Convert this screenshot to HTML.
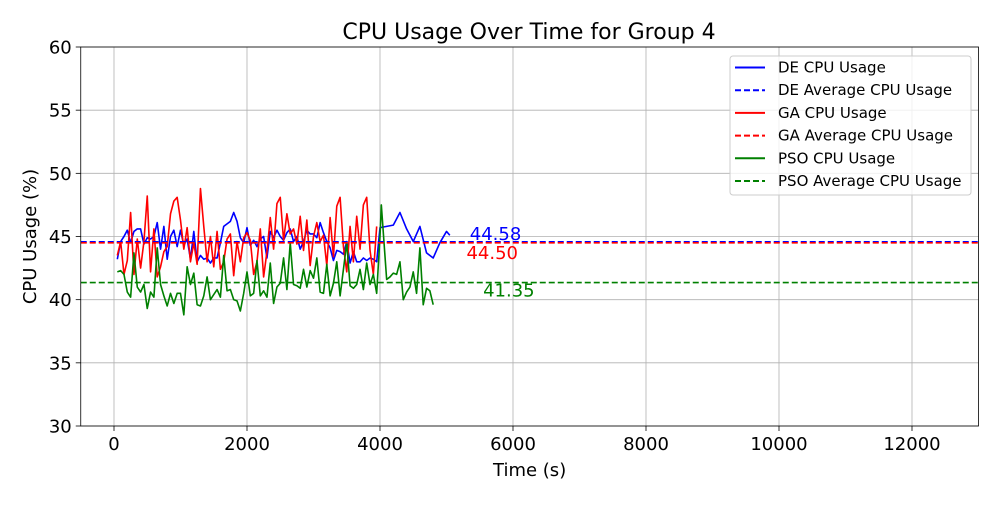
<!DOCTYPE html>
<html><head><meta charset="utf-8"><style>
body{margin:0;background:#fff;font-family:"Liberation Sans","DejaVu Sans",sans-serif}
svg text{font-family:"DejaVu Sans","Liberation Sans",sans-serif}
</style></head><body>
<svg id="chart" width="1000" height="500" viewBox="0 0 1000 500" xmlns="http://www.w3.org/2000/svg">
<rect width="1000" height="500" fill="#fff"/>
<text x="529" y="39" font-size="22" text-anchor="middle">CPU Usage Over Time for Group 4</text>
<g id="grid"></g><g id="series"></g><g id="axes"></g><g id="legend"></g>
</svg>
<script>
const xTicks=[0,2000,4000,6000,8000,10000,12000];
const yTicks=[30,35,40,45,50,55,60];
const deTimes=[50,100,150,200,250,300,350,400,450,500,550,600,650,700,750,800,850,900,950,1000,1050,1100,1150,1200,1250,1300,1350,1400,1450,1500,1550,1600,1650,1700,1750,1800,1850,1900,1950,2000,2050,2100,2150,2200,2250,2300,2350,2400,2450,2500,2550,2600,2650,2700,2750,2800,2850,2900,2950,3000,3050,3100,3150,3200,3250,3300,3350,3400,3450,3500,3550,3600,3650,3700,3750,3800,3850,3900,3950,4000,4100,4200,4300,4400,4500,4600,4700,4800,4900,5000,5050];
const deValues=[43.2,44.6,45.0,45.5,44.5,45.4,45.6,45.6,44.4,44.9,44.8,45.0,46.1,44.0,45.8,43.2,45.0,45.5,44.2,45.5,44.3,44.8,43.2,45.4,43.0,43.5,43.2,43.3,42.9,43.3,43.3,44.5,45.8,46.0,46.2,46.9,46.2,44.9,44.5,45.7,44.3,44.7,44.2,44.8,45.0,43.3,45.4,44.9,45.5,45.0,44.7,45.3,45.6,44.6,45.0,44.0,44.6,45.5,45.2,45.2,44.9,46.1,45.3,44.6,44.1,43.1,43.9,43.8,43.6,44.6,42.9,43.8,43.0,43.0,43.3,43.1,43.3,43.2,43.0,45.7,45.8,45.9,46.9,45.6,44.6,45.8,43.7,43.3,44.5,45.4,45.1];
const gaTimes=[50,100,150,200,250,300,350,400,450,500,550,600,650,700,750,800,850,900,950,1000,1050,1100,1150,1200,1250,1300,1350,1400,1450,1500,1550,1600,1650,1700,1750,1800,1850,1900,1950,2000,2050,2100,2150,2200,2250,2300,2350,2400,2450,2500,2550,2600,2650,2700,2750,2800,2850,2900,2950,3000,3050,3100,3150,3200,3250,3300,3350,3400,3450,3500,3550,3600,3650,3700,3750,3800,3850,3900,3950];
const gaValues=[43.5,44.6,42.0,43.1,46.9,42.0,44.8,42.5,44.6,48.2,42.2,45.6,41.8,42.6,43.8,44.2,46.8,47.8,48.1,46.3,44.0,45.7,43.0,44.5,42.8,48.8,45.8,43.0,45.0,42.6,45.4,42.4,43.0,44.8,45.2,41.9,44.6,43.0,44.9,45.3,44.7,42.0,43.0,45.6,41.8,43.8,46.5,44.0,47.6,48.1,44.7,46.8,45.2,45.6,44.4,46.6,43.9,46.3,42.7,45.0,46.1,44.6,45.1,42.7,46.5,43.4,47.4,48.1,44.2,42.2,45.8,43.0,46.6,44.0,47.5,48.1,43.9,42.0,45.8];
const psoTimes=[50,100,150,200,250,300,350,400,450,500,550,600,650,700,750,800,850,900,950,1000,1050,1100,1150,1200,1250,1300,1350,1400,1450,1500,1550,1600,1650,1700,1750,1800,1850,1900,1950,2000,2050,2100,2150,2200,2250,2300,2350,2400,2450,2500,2550,2600,2650,2700,2750,2800,2850,2900,2950,3000,3050,3100,3150,3200,3250,3300,3350,3400,3450,3500,3550,3600,3650,3700,3750,3800,3850,3900,3950,4000,4020,4100,4150,4200,4250,4300,4350,4400,4450,4500,4550,4600,4650,4700,4750,4800];
const psoValues=[42.2,42.3,42.0,40.6,40.2,43.7,41.0,40.6,41.2,39.3,40.6,40.2,44.1,41.2,40.3,39.5,40.5,39.7,40.5,40.5,38.8,42.6,41.2,42.1,39.6,39.5,40.3,41.8,40.0,40.4,40.8,40.2,43.5,40.7,40.8,40.0,39.9,39.1,40.5,42.2,40.3,40.5,43.1,40.3,40.7,40.2,42.9,39.7,41.0,41.3,43.3,40.8,44.5,41.2,41.1,40.9,42.4,41.0,42.3,41.7,43.3,40.6,40.5,42.8,40.3,41.3,43.0,40.3,42.4,44.5,41.1,40.9,41.2,42.4,40.8,42.9,41.2,42.0,40.5,45.0,47.5,41.6,41.8,42.1,42.0,43.0,40.0,40.6,41.0,42.2,40.5,44.1,39.6,40.9,40.7,39.6];
const avgValues=[44.58,44.50,41.35];
const seriesNames=["DE","GA","PSO"];
const colors=["#0000ff","#ff0000","#008000"];

const X0=80.75,X1=978.5,Y0=426,Y1=47,xmin=-500,xmax=13000,ymin=30,ymax=60;
const sx=v=>X0+(v-xmin)/(xmax-xmin)*(X1-X0);
const sy=v=>Y0-(v-ymin)/(ymax-ymin)*(Y0-Y1);
const NS="http://www.w3.org/2000/svg";
function mk(tag,attrs,parent){const e=document.createElementNS(NS,tag);for(const k in attrs)e.setAttribute(k,attrs[k]);parent.appendChild(e);return e;}
const grid=document.getElementById('grid'),axes=document.getElementById('axes'),ser=document.getElementById('series'),leg=document.getElementById('legend');

xTicks.forEach(t=>{
  const g=mk('line',{x1:sx(t),x2:sx(t),y1:Y1,y2:Y0,stroke:'#b0b0b0','stroke-width':0.8},grid);
  
  
  mk('line',{x1:sx(t),x2:sx(t),y1:Y0,y2:Y0+5,stroke:'#000','stroke-width':0.8},axes);
  const tx=mk('text',{x:sx(t),y:Y0+24,'font-size':18,'text-anchor':'middle'},axes);tx.textContent=t;
  
  
});
yTicks.forEach(t=>{
  const g=mk('line',{x1:X0,x2:X1,y1:sy(t),y2:sy(t),stroke:'#b0b0b0','stroke-width':0.8},grid);
  
  
  mk('line',{x1:X0-5,x2:X0,y1:sy(t),y2:sy(t),stroke:'#000','stroke-width':0.8},axes);
  const tx=mk('text',{x:X0-9,y:sy(t)+6.5,'font-size':18,'text-anchor':'end'},axes);tx.textContent=t;
  
  
});
const frame=mk('rect',{x:X0,y:Y1,width:X1-X0,height:Y0-Y1,fill:'none',stroke:'#000','stroke-width':0.8},axes);


const xl=mk('text',{x:(X0+X1)/2,y:476,'font-size':18,'text-anchor':'middle'},axes);xl.textContent='Time (s)';


const yl=mk('text',{x:36,y:(Y0+Y1)/2,'font-size':18,'text-anchor':'middle',transform:`rotate(-90 36 ${(Y0+Y1)/2})`},axes);yl.textContent='CPU Usage (%)';



const T=[deTimes,gaTimes,psoTimes],V=[deValues,gaValues,psoValues];
[0,1,2].forEach(i=>{
  const p=mk('polyline',{points:T[i].map((t,j)=>sx(t)+','+sy(V[i][j])).join(' '),fill:'none',stroke:colors[i],'stroke-width':1.6,'stroke-linejoin':'round'},ser);
  
  
});
const labelOff=[[5350,-2],[5300,16],[5550,14]];
[0,1,2].forEach(i=>{
  const l=mk('line',{x1:X0,x2:X1,y1:sy(avgValues[i]),y2:sy(avgValues[i]),stroke:colors[i],'stroke-width':1.6,'stroke-dasharray':'6,3'},ser);
  
  
  const tx=mk('text',{x:sx(labelOff[i][0]),y:sy(avgValues[i])+labelOff[i][1],'font-size':18,fill:colors[i]},ser);
  tx.textContent=avgValues[i].toFixed(2);
  
  
});

const lb=mk('rect',{x:730,y:56,width:241,height:139,rx:3,fill:'#fff','fill-opacity':0.8,stroke:'#ccc','stroke-width':1},leg);


const entries=[];
seriesNames.forEach((n,i)=>{entries.push([n+' CPU Usage',colors[i],false]);entries.push([n+' Average CPU Usage',colors[i],true]);});
entries.forEach((e,k)=>{
  const y=67.5+k*22.7;
  const g=mk('g',{},leg);
  
  
  const a={x1:735,x2:765,y1:y,y2:y,stroke:e[1],'stroke-width':2};
  if(e[2])a['stroke-dasharray']='6,3';
  mk('line',a,g);
  const t=mk('text',{x:778,y:y+5,'font-size':15},g);t.textContent=e[0];
});
</script>
</body></html>
